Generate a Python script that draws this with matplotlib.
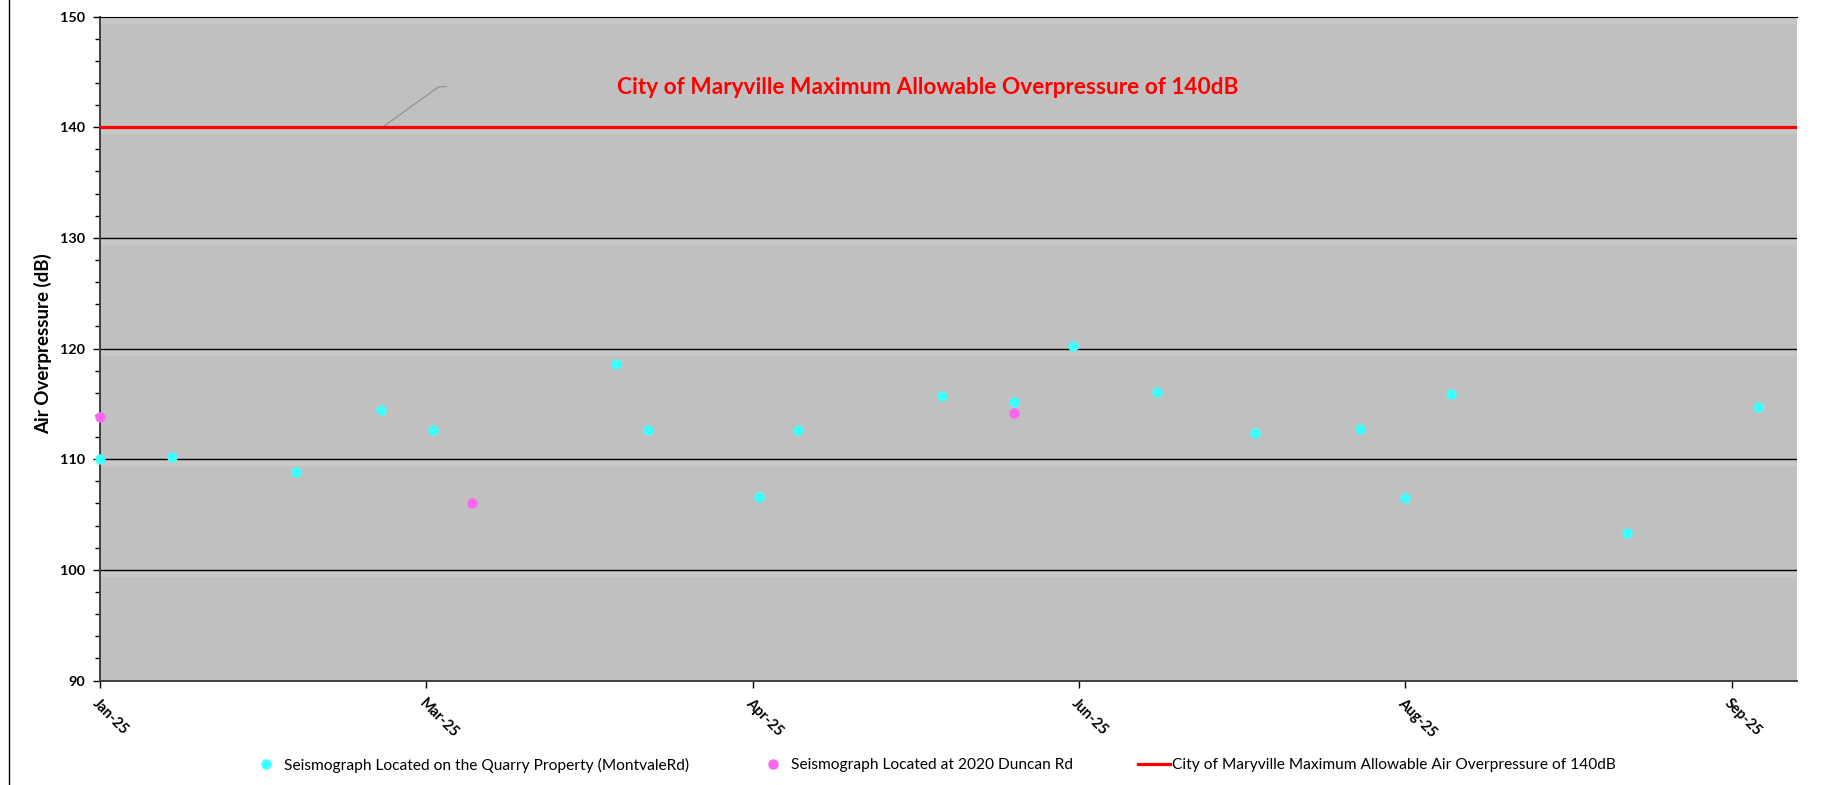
"""
Air overpressure readings at the two seismographs, 2025.
"""
import matplotlib
matplotlib.use('Agg')
import matplotlib.pyplot as plt
import matplotlib.dates as mdates
from matplotlib.lines import Line2D
import pandas as pd

plt.rcParams['font.family'] = ['Lato', 'DejaVu Sans']

# Seismograph on the quarry property (Montvale Rd)
quarry_dates = ['2025-01-13', '2025-01-24', '2025-02-12', '2025-02-25', '2025-03-05',
                '2025-04-02', '2025-04-07', '2025-04-24', '2025-04-30', '2025-05-22',
                '2025-06-02', '2025-06-11', '2025-06-24', '2025-07-09', '2025-07-25',
                '2025-08-01', '2025-08-08', '2025-09-04', '2025-09-24']
quarry_db = [110.0, 110.2, 108.8, 114.4, 112.6,
             118.6, 112.6, 106.6, 112.6, 115.7,
             115.2, 120.2, 116.1, 112.4, 112.7,
             106.5, 115.9, 103.3, 114.7]

# Seismograph at 2020 Duncan Rd
duncan_dates = ['2025-01-13', '2025-03-11', '2025-06-02']
duncan_db = [113.8, 106.0, 114.2]

limit_db = 140
x_start = '2025-01-13'
x_end = '2025-09-30'
tick_step = '50D'

quarry_label = 'Seismograph Located on the Quarry Property (MontvaleRd)'
duncan_label = 'Seismograph Located at 2020 Duncan Rd'
limit_label = 'City of Maryville Maximum Allowable Air Overpressure of 140dB'
limit_note = 'City of Maryville Maximum Allowable Overpressure of 140dB'

quarry_x = pd.to_datetime(quarry_dates)
duncan_x = pd.to_datetime(duncan_dates)
x0 = pd.Timestamp(x_start)
x1 = pd.Timestamp(x_end)

DPI = 100
fig = plt.figure(figsize=(18.49, 7.85), dpi=DPI)
renderer = fig.canvas.get_renderer()


def fit_size(s, target_px, weight='normal'):
    # font size (pt) that makes s about target_px wide, Lato is not Calibri
    t = fig.text(0, 0, s, fontsize=10, fontweight=weight)
    w = t.get_window_extent(renderer).width
    t.remove()
    return 10 * target_px / w


title_fs = fit_size(limit_note, 624, 'bold')
ylab_fs = fit_size('Air Overpressure (dB)', 182, 'bold')
ytick_fs = fit_size('150', 25, 'bold')
xtick_fs = fit_size('Jan-25', 44, 'bold')
legend_fs = fit_size(quarry_label, 406)

ax = fig.add_axes([0.05408, 0.13312, 0.9178, 0.84586])
ax.set_facecolor('#c0c0c0')

ax.set_xlim(x0, x1)
ax.set_ylim(90, 150)

# horizontal gridlines with the light band Excel draws under them
for v in range(100, 151, 10):
    ax.axhspan(v - 0.65, v - 0.12, color='#c8c8c8', lw=0, zorder=0.5)
    if v < 150:
        ax.axhline(v, color='black', lw=1.0, zorder=1)

ax.plot(quarry_x, quarry_db, 'o', color='#3dffff', markersize=6.5, clip_on=False, zorder=4)
ax.plot(duncan_x, duncan_db, 'o', color='#ff66f0', markersize=6.5, clip_on=False, zorder=4)
ax.axhline(limit_db, color='#ff0000', lw=2.3, zorder=3)

# data label with its leader line
lead_x = [x0 + pd.Timedelta(days=43.3), x0 + pd.Timedelta(days=51.9), x0 + pd.Timedelta(days=53)]
lead_y = [limit_db, limit_db + 3.66, limit_db + 3.66]
ax.plot(lead_x, lead_y, color='#8c8c8c', lw=0.8, zorder=2)
ax.text(x0 + pd.Timedelta(days=126.8), limit_db + 3.6, limit_note, color='#ff0000',
        fontsize=title_fs, fontweight='bold', ha='center', va='center')

# axes
ax.set_xticks(pd.date_range(x0, x1, freq=tick_step))
ax.xaxis.set_major_formatter(mdates.DateFormatter('%b-%y'))
ax.set_yticks(range(90, 151, 10))
ax.set_yticks(range(90, 151, 2), minor=True)

ax.tick_params(axis='y', which='major', length=5, width=1, pad=6, labelsize=ytick_fs, colors='black')
ax.tick_params(axis='y', which='minor', length=3.5, width=1)
ax.tick_params(axis='x', which='major', length=5, width=1, pad=6, labelsize=xtick_fs)
for lab in ax.get_yticklabels():
    lab.set_fontweight('bold')
for lab in ax.get_xticklabels():
    lab.set_fontweight('bold')
    lab.set_rotation(-45)
    lab.set_ha('left')
    lab.set_va('top')
    lab.set_rotation_mode('anchor')

ax.spines['right'].set_visible(False)
ax.spines['top'].set_color('black')
ax.spines['left'].set_color('#404040')
ax.spines['bottom'].set_color('#404040')
for s in ['left', 'bottom']:
    ax.spines[s].set_linewidth(1.4)

ax.set_ylabel('Air Overpressure (dB)', fontsize=ylab_fs, fontweight='bold')
ax.yaxis.set_label_coords(-0.0285, 0.5068)

# legend entries laid out like the Excel legend (pixel positions of each entry)
fs_px = legend_fs * DPI / 72
handles = [
    Line2D([], [], marker='o', ls='none', color='#3dffff', markersize=6.5),
    Line2D([], [], marker='o', ls='none', color='#ff66f0', markersize=6.5),
    Line2D([], [], color='#ff0000', lw=2.3),
]
labels = [quarry_label, duncan_label, limit_label]
legend_x = [250, 757, 1138]
for h, lab, lx in zip(handles, labels, legend_x):
    fig.legend([h], [lab], loc='center left', bbox_to_anchor=(lx / 1849, 20 / 785),
               frameon=False, fontsize=legend_fs, borderpad=0, borderaxespad=0,
               handlelength=32 / fs_px, handletextpad=2 / fs_px)

# chart area border on the left
fig.add_artist(Line2D([9 / 1849, 9 / 1849], [0, 1], transform=fig.transFigure,
                      color='black', lw=1))

fig.savefig('out.png', dpi=DPI)
